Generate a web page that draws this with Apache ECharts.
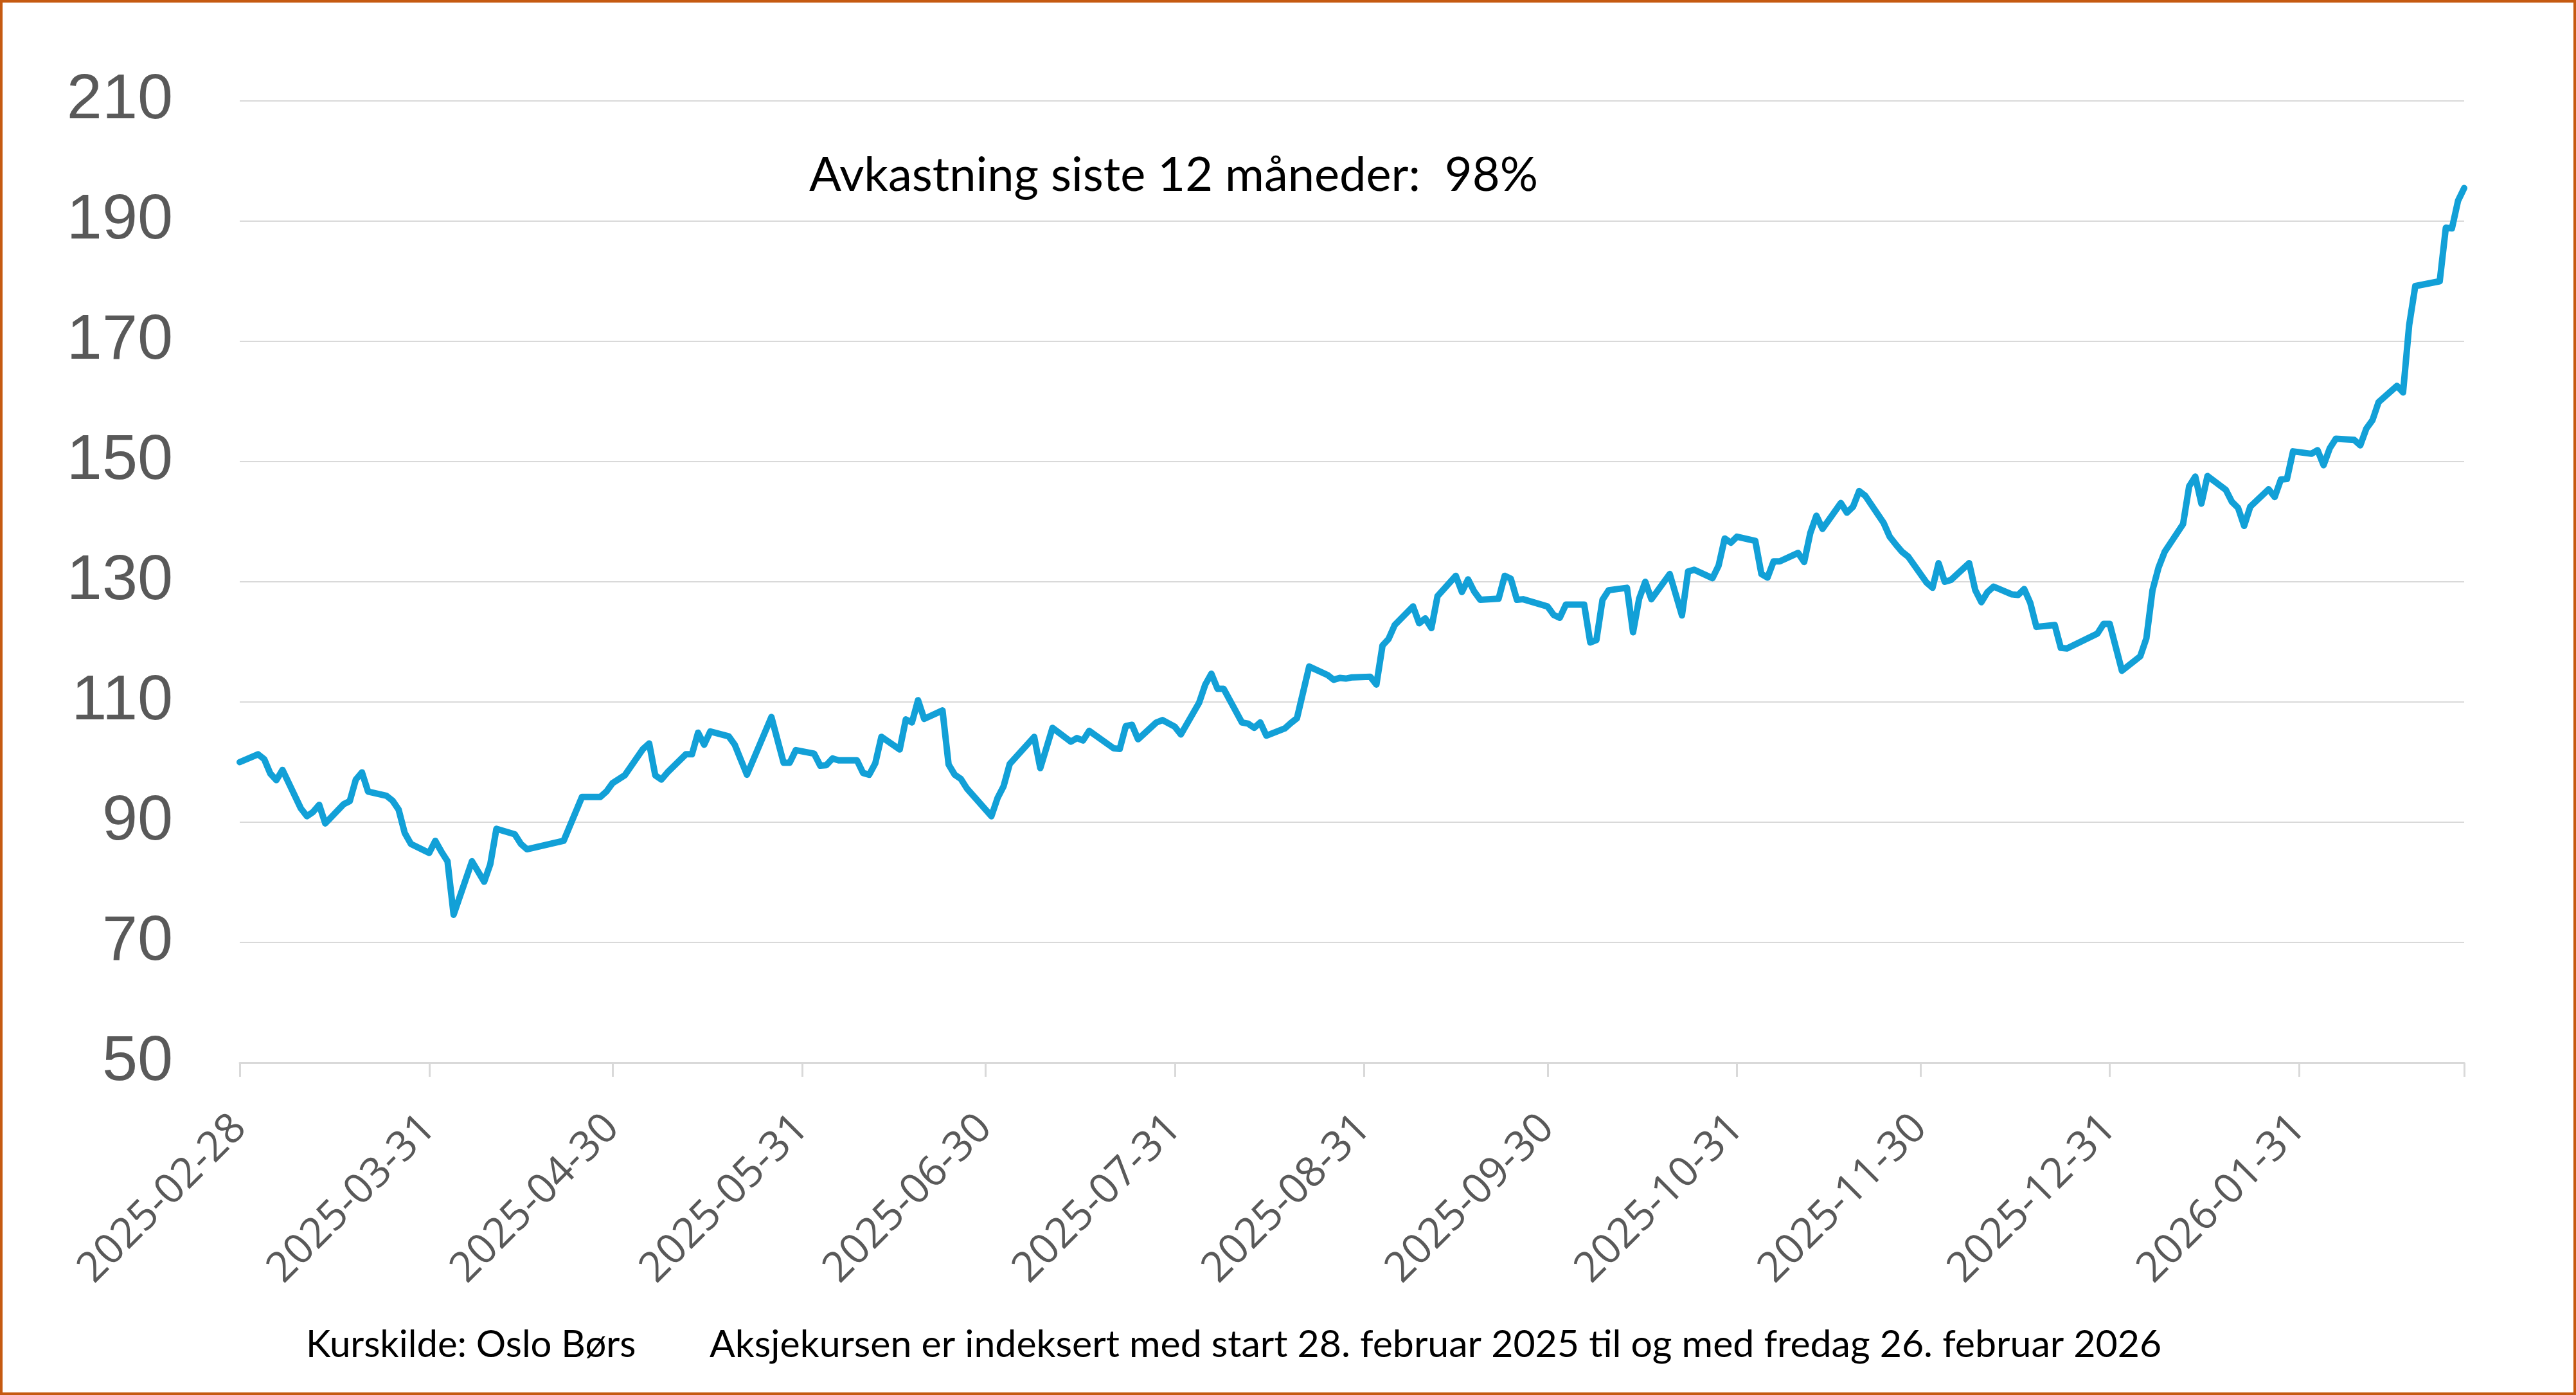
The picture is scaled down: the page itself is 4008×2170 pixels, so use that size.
<!DOCTYPE html>
<html>
<head>
<meta charset="utf-8">
<script src="https://cdn.jsdelivr.net/npm/echarts@6/dist/echarts.min.js"></script>
<style>
html,body{margin:0;padding:0;background:#fff;}
#wrap{position:relative;width:4008px;height:2170px;}
#c{position:absolute;left:0;top:0;width:4008px;height:2170px;}
#frame{position:absolute;left:0;top:0;width:4008px;height:2170px;box-sizing:border-box;border:4px solid #C55A11;pointer-events:none;}
</style>
</head>
<body>
<div id="wrap"><div id="c"></div><div id="frame"></div></div>
<script>
// ---- data ----
const dates = [
'2025-02-28','2025-03-03','2025-03-04','2025-03-05','2025-03-06','2025-03-07',
'2025-03-10','2025-03-11','2025-03-12','2025-03-13','2025-03-14',
'2025-03-17','2025-03-18','2025-03-19','2025-03-20','2025-03-21',
'2025-03-24','2025-03-25','2025-03-26','2025-03-27','2025-03-28',
'2025-03-31','2025-04-01','2025-04-02','2025-04-03','2025-04-04',
'2025-04-07','2025-04-09','2025-04-10','2025-04-11',
'2025-04-14','2025-04-15','2025-04-16',
'2025-04-22','2025-04-25',
'2025-04-28','2025-04-29','2025-04-30','2025-05-02',
'2025-05-05','2025-05-06','2025-05-07','2025-05-08','2025-05-09',
'2025-05-12','2025-05-13','2025-05-14','2025-05-15','2025-05-16',
'2025-05-19','2025-05-20','2025-05-21','2025-05-22',
'2025-05-26','2025-05-28','2025-05-29','2025-05-30',
'2025-06-02','2025-06-03','2025-06-04','2025-06-05','2025-06-06',
'2025-06-09','2025-06-10','2025-06-11','2025-06-12','2025-06-13',
'2025-06-16','2025-06-17','2025-06-18','2025-06-19','2025-06-20',
'2025-06-23','2025-06-24','2025-06-25','2025-06-26','2025-06-27',
'2025-07-01','2025-07-02','2025-07-03','2025-07-04',
'2025-07-08','2025-07-09','2025-07-11',
'2025-07-14','2025-07-15','2025-07-16','2025-07-17',
'2025-07-21','2025-07-22','2025-07-23','2025-07-24','2025-07-25',
'2025-07-28','2025-07-29','2025-07-31','2025-08-01',
'2025-08-04','2025-08-05','2025-08-06','2025-08-07','2025-08-08',
'2025-08-11','2025-08-12','2025-08-13','2025-08-14','2025-08-15',
'2025-08-18','2025-08-19','2025-08-20','2025-08-22',
'2025-08-25','2025-08-26','2025-08-27','2025-08-28','2025-08-29',
'2025-09-01','2025-09-02','2025-09-03','2025-09-04','2025-09-05',
'2025-09-08','2025-09-09','2025-09-10','2025-09-11','2025-09-12',
'2025-09-15','2025-09-16','2025-09-17','2025-09-18','2025-09-19',
'2025-09-22','2025-09-23','2025-09-24','2025-09-25','2025-09-26',
'2025-09-30','2025-10-01','2025-10-02','2025-10-03',
'2025-10-06','2025-10-07','2025-10-08','2025-10-09','2025-10-10',
'2025-10-13','2025-10-14','2025-10-15','2025-10-16','2025-10-17',
'2025-10-20','2025-10-22','2025-10-23','2025-10-24',
'2025-10-27','2025-10-28','2025-10-29','2025-10-30','2025-10-31',
'2025-11-03','2025-11-04','2025-11-05','2025-11-06','2025-11-07',
'2025-11-10','2025-11-11','2025-11-12','2025-11-13','2025-11-14',
'2025-11-17','2025-11-18','2025-11-19','2025-11-20','2025-11-21',
'2025-11-24','2025-11-25','2025-11-26','2025-11-27','2025-11-28',
'2025-12-01','2025-12-02','2025-12-03','2025-12-04','2025-12-05',
'2025-12-08','2025-12-09','2025-12-10','2025-12-11','2025-12-12',
'2025-12-15','2025-12-16','2025-12-17','2025-12-18','2025-12-19',
'2025-12-22','2025-12-23','2025-12-24',
'2025-12-29','2025-12-30','2025-12-31','2026-01-02',
'2026-01-05','2026-01-06','2026-01-07','2026-01-08','2026-01-09',
'2026-01-12','2026-01-13','2026-01-14','2026-01-15','2026-01-16',
'2026-01-19','2026-01-20','2026-01-21','2026-01-22','2026-01-23',
'2026-01-26','2026-01-27','2026-01-28','2026-01-29','2026-01-30',
'2026-02-02','2026-02-03','2026-02-04','2026-02-05','2026-02-06',
'2026-02-09','2026-02-10','2026-02-11','2026-02-12','2026-02-13',
'2026-02-16','2026-02-17','2026-02-18','2026-02-19',
'2026-02-23','2026-02-24','2026-02-25','2026-02-26','2026-02-27'
];
const values = [
100.0,101.3,100.5,98.1,97.0,98.7,
92.3,91.0,91.7,92.9,89.8,
93.0,93.5,97.1,98.3,95.1,
94.4,93.6,92.1,88.2,86.4,
84.9,86.9,85.1,83.5,74.6,
83.5,80.1,83.0,88.9,
88.0,86.4,85.5,
86.9,94.2,
94.2,95.1,96.5,97.8,
102.2,103.1,97.8,97.1,98.3,
101.3,101.3,104.9,102.9,105.1,
104.3,102.9,100.4,97.9,
107.5,99.9,99.9,102.0,
101.4,99.4,99.5,100.6,100.3,
100.3,98.2,97.9,99.8,104.2,
102.1,107.1,106.6,110.3,107.2,
108.6,99.6,97.9,97.2,95.6,
91.0,94.0,96.0,99.7,
104.2,99.0,105.7,
103.4,104.0,103.6,105.2,
102.3,102.2,106.0,106.2,103.8,
106.6,107.0,105.9,104.6,
109.9,112.9,114.7,112.2,112.2,
106.6,106.4,105.7,106.6,104.4,
105.6,106.5,107.3,115.9,
114.5,113.7,114.0,113.9,114.1,
114.2,112.9,119.4,120.5,122.8,
125.9,123.1,123.9,122.3,127.6,
131.0,128.3,130.4,128.4,127.0,
127.2,131.0,130.5,127.0,127.1,
125.9,124.5,124.0,126.2,
126.2,119.9,120.3,127.0,128.6,
129.0,121.6,127.2,130.0,127.1,
131.3,124.4,131.7,132.0,
130.6,132.7,137.2,136.5,137.5,
136.8,131.3,130.7,133.4,133.4,
134.8,133.3,138.1,141.0,138.8,
143.1,141.5,142.5,145.1,144.3,
139.8,137.5,136.2,135.0,134.2,
129.9,129.0,133.1,130.0,130.3,
133.1,128.6,126.6,128.3,129.2,
127.9,127.8,128.8,126.5,122.5,
122.8,119.0,118.9,
121.4,123.0,123.0,115.2,
117.6,120.6,128.6,132.4,135.0,
139.6,145.9,147.5,143.0,147.6,
145.3,143.3,142.3,139.3,142.5,
145.4,144.1,147.0,147.1,151.7,
151.3,151.9,149.4,152.2,153.8,
153.6,152.7,155.5,156.9,159.9,
162.6,161.5,172.7,179.2,
180.0,188.9,188.8,193.4,195.5
];
const yTicks = [50, 70, 90, 110, 130, 150, 170, 190, 210];
const xTickLabels = ['2025-02-28','2025-03-31','2025-04-30','2025-05-31','2025-06-30','2025-07-31',
  '2025-08-31','2025-09-30','2025-10-31','2025-11-30','2025-12-31','2026-01-31'];
const xMin = '2025-02-28';
const xMax = '2026-02-27';
const annotationText = 'Avkastning siste 12 måneder:  98%';
const sourceText = 'Kurskilde: Oslo Børs';
const noteText = 'Aksjekursen er indeksert med start 28. februar 2025 til og med fredag 26. februar 2026';

// ---- helpers ----
function ts(s) { const p = s.split('-').map(Number); return new Date(p[0], p[1] - 1, p[2]).getTime(); }
function fmt(t) {
  const d = new Date(Math.round(t));
  const z = n => String(n).padStart(2, '0');
  return d.getFullYear() + '-' + z(d.getMonth() + 1) + '-' + z(d.getDate());
}

const chart = echarts.init(document.getElementById('c'), null, { renderer: 'canvas' });
const xTickValues = xTickLabels.map(ts);

chart.setOption({
  animation: false,
  backgroundColor: '#ffffff',
  grid: { left: 373, right: 174, top: 157, bottom: 517, containLabel: false },
  xAxis: {
    type: 'value',
    min: ts(xMin),
    max: ts(xMax),
    axisLine: { show: true, onZero: false, lineStyle: { color: '#d9d9d9', width: 3 } },
    axisTick: { show: true, customValues: xTickValues.concat([ts(xMax)]), length: 22, lineStyle: { color: '#d9d9d9', width: 3 } },
    axisLabel: {
      customValues: xTickValues,
      formatter: v => fmt(v),
      rotate: 45,
      margin: 92,
      color: '#595959',
      fontFamily: 'Open Sans',
      fontSize: 65,
      hideOverlap: false,
      showMinLabel: true
    },
    splitLine: { show: false }
  },
  yAxis: {
    type: 'value',
    min: yTicks[0],
    max: yTicks[yTicks.length - 1],
    axisLine: { show: false },
    axisTick: { show: false, customValues: yTicks },
    axisLabel: {
      customValues: yTicks,
      margin: 104,
      color: '#595959',
      fontFamily: 'Liberation Sans',
      fontSize: 99
    },
    splitLine: { show: true, lineStyle: { color: '#d9d9d9', width: 2 } }
  },
  series: [{
    type: 'line',
    data: dates.map((d, i) => [ts(d), values[i]]),
    showSymbol: false,
    symbol: 'none',
    lineStyle: { color: '#12A0D7', width: 10, cap: 'round', join: 'round' },
    emphasis: { disabled: true }
  }],
  graphic: [
    { type: 'text', x: 1259, y: 273, style: { text: annotationText, fontFamily: 'Lato', fontSize: 74, fill: '#000000', textAlign: 'left', textVerticalAlign: 'middle', align: 'left', verticalAlign: 'middle' } },
    { type: 'text', x: 476, y: 2092, style: { text: sourceText, fontFamily: 'Lato', fontSize: 58, fill: '#000000', textAlign: 'left', textVerticalAlign: 'middle', align: 'left', verticalAlign: 'middle' } },
    { type: 'text', x: 1104, y: 2092, style: { text: noteText, fontFamily: 'Lato', fontSize: 59, fill: '#000000', textAlign: 'left', textVerticalAlign: 'middle', align: 'left', verticalAlign: 'middle' } }
  ]
});
</script>
</body>
</html>
